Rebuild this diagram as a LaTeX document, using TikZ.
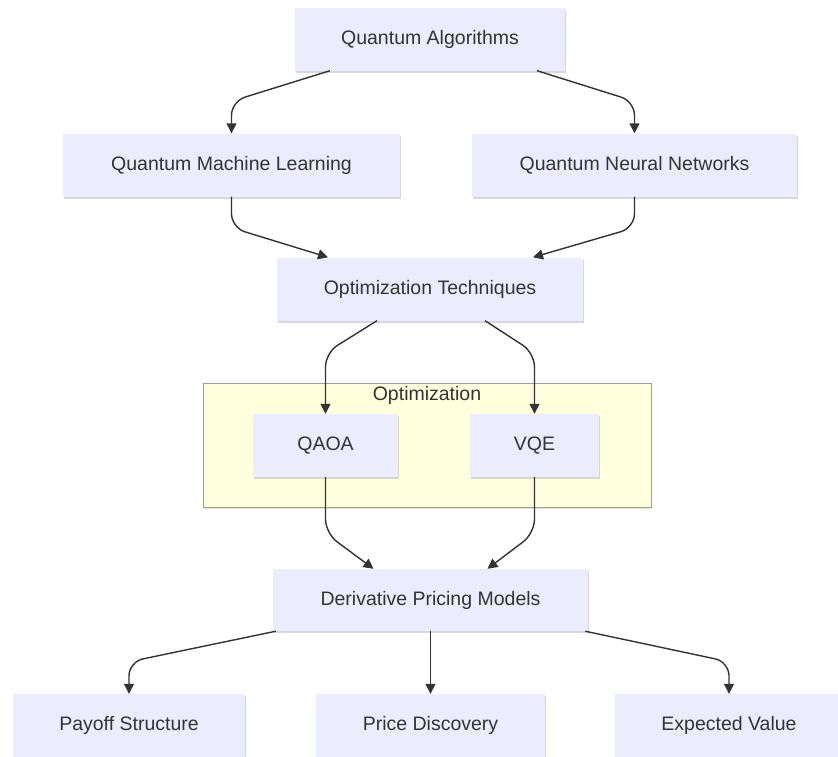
\documentclass[tikz,border=0pt]{standalone}
\usepackage{fontspec}
\setmainfont{Liberation Sans}
\usetikzlibrary{arrows.meta,shadows}
\definecolor{nodefill}{HTML}{ECECFF}
\definecolor{clusterfill}{HTML}{FFFFDE}
\definecolor{clusterline}{HTML}{A38FD6}
\definecolor{txt}{HTML}{333333}
\definecolor{edgecol}{HTML}{333333}
\tikzset{
  box/.style={fill=nodefill, draw=none, minimum height=63pt, inner sep=0pt,
    text=txt, font=\fontsize{19.5}{23}\selectfont,
    drop shadow={shadow xshift=1.2pt, shadow yshift=-2pt, opacity=0.25, fill=black!60}},
  edge/.style={draw=edgecol, line width=1.4pt, rounded corners=14pt,
    -{Triangle[length=10pt,width=10pt]}},
}
\begin{document}
\begin{tikzpicture}[x=1pt,y=-1pt]
\useasboundingbox (0,0) rectangle (838,756);
\clip (0,0) rectangle (838,756);
\fill[white] (0,0) rectangle (838,756);

% cluster
\node[draw=clusterline, fill=clusterfill, line width=1pt, minimum width=448pt, minimum height=124pt, inner sep=0pt,
  drop shadow={shadow xshift=1.2pt, shadow yshift=-2pt, opacity=0.2, fill=black!60}] (cl) at (427,445) {};
\node[text=txt, font=\fontsize{19.5}{23}\selectfont] (cltitle) at (427,395) {Optimization};

\node[box, minimum width=270pt] (qa) at (430,39) {Quantum Algorithms};
\node[box, minimum width=337pt] (qml) at (231.5,165) {Quantum Machine Learning};
\node[box, minimum width=325pt] (qnn) at (634.5,165) {Quantum Neural Networks};
\node[box, minimum width=306pt] (opt) at (430,289) {Optimization Techniques};
\node[box, minimum width=145pt] (qaoa) at (325.5,445.5) {QAOA};
\node[box, minimum width=129pt] (vqe) at (534.5,445.5) {VQE};
\node[box, minimum width=315pt, minimum height=62pt] (dpm) at (430.5,600) {Derivative Pricing Models};
\node[box, minimum width=232pt] (pay) at (129,725.5) {Payoff Structure};
\node[box, minimum width=229pt] (price) at (430.5,725.5) {Price Discovery};
\node[box, minimum width=228pt] (exv) at (729,725.5) {Expected Value};

% edges
\draw[edge] ([xshift=-100pt]qa.south) -- ([yshift=32pt]qml.north) -- (qml.north);
\draw[edge] ([xshift=107pt]qa.south) -- ([yshift=32pt]qnn.north) -- (qnn.north);
\draw[edge] (qml.south) -- ([yshift=-31pt]qml.south) -- ([xshift=-102pt]opt.north);
\draw[edge] (qnn.south) -- ([yshift=-31pt]qnn.south) -- ([xshift=103pt]opt.north);
\draw[edge] ([xshift=-53pt]opt.south) -- ([yshift=61pt]qaoa.north) -- (qaoa.north);
\draw[edge] ([xshift=55pt]opt.south) -- ([yshift=61pt]vqe.north) -- (vqe.north);
\draw[edge] (qaoa.south) -- ([yshift=-56pt]qaoa.south) -- ([xshift=-57pt]dpm.north);
\draw[edge] (vqe.south) -- ([yshift=-56pt]vqe.south) -- ([xshift=57pt]dpm.north);
\draw[edge] ([xshift=3pt]dpm.south west) -- ([yshift=32pt]pay.north) -- (pay.north);
\draw[edge] (dpm.south) -- (price.north);
\draw[edge] ([xshift=-3pt]dpm.south east) -- ([yshift=32pt]exv.north) -- (exv.north);
\end{tikzpicture}
\end{document}
